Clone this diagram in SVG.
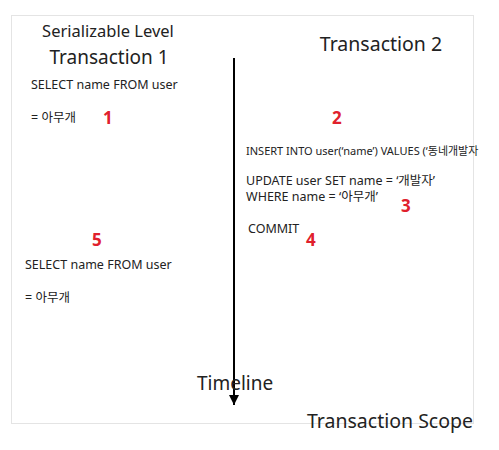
<svg xmlns="http://www.w3.org/2000/svg" width="499" height="450" viewBox="0 0 499 450">
<style>
text{font-family:"Noto Sans","Noto Sans CJK KR",sans-serif;fill:#222}
.t{font-size:12.5px}
.h{font-size:19.5px}
.n{font-size:17px;font-weight:bold;fill:#e0202c}
</style>
<defs>
<marker id="ah" markerWidth="10" markerHeight="10" refX="10" refY="5" orient="auto" markerUnits="userSpaceOnUse" viewBox="0 0 10 10">
<path d="M0,0 L10,5 L0,10 Z" fill="#000"/>
</marker>
</defs>
<rect width="499" height="450" fill="#fff"/>
<rect x="11.5" y="15.5" width="462" height="408" fill="none" stroke="#e4e4e4" stroke-width="1"/>
<g id="connectors">
<line x1="234" y1="58" x2="234" y2="405" stroke="#000" stroke-width="2" marker-end="url(#ah)"/>
</g>
<g id="tx1">
<text x="108" y="37" text-anchor="middle" style="font-size:16.5px">Serializable Level</text>
<text x="109" y="64" text-anchor="middle" style="font-size:19px">Transaction 1</text>
<text x="31" y="89" class="t">SELECT name FROM user</text>
<text x="31" y="122" class="t">= 아무개</text>
<text x="103" y="124" class="n">1</text>
</g>
<g id="tx2">
<text x="381" y="51" text-anchor="middle" class="h">Transaction 2</text>
<text x="332" y="124" class="n">2</text>
<text x="246" y="155" style="font-size:11px">INSERT INTO user(‘name’) VALUES (‘동네개발자</text>
<text x="246" y="185" class="t">UPDATE user SET name = ‘개발자’</text>
<text x="246" y="201" class="t">WHERE name = ‘아무개’</text>
<text x="401" y="212" class="n">3</text>
<text x="248" y="233" class="t">COMMIT</text>
<text x="306" y="246" class="n">4</text>
</g>
<g id="tx1b">
<text x="92" y="246" class="n">5</text>
<text x="25" y="269" class="t">SELECT name FROM user</text>
<text x="25" y="302" class="t">= 아무개</text>
</g>
<g id="labels">
<text x="197" y="390" style="font-size:19px">Timeline</text>
<text x="307" y="428" class="h">Transaction Scope</text>
</g>
</svg>
